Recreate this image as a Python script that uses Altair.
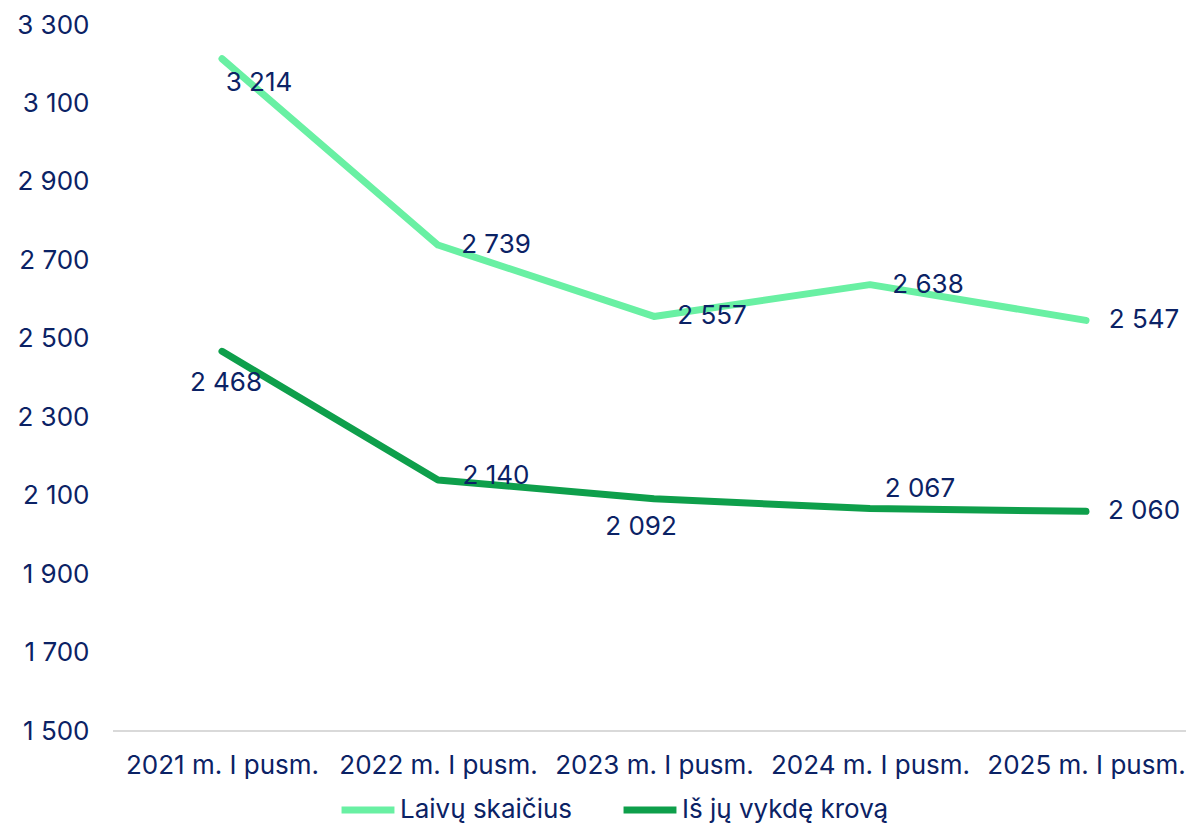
import altair as alt
import pandas as pd

categories = ["2021 m. I pusm.", "2022 m. I pusm.", "2023 m. I pusm.", "2024 m. I pusm.", "2025 m. I pusm."]
series_names = ["Laivų skaičius", "Iš jų vykdę krovą"]
laivai = [3214, 2739, 2557, 2638, 2547]
krova = [2468, 2140, 2092, 2067, 2060]
y_ticks = [1500, 1700, 1900, 2100, 2300, 2500, 2700, 2900, 3100, 3300]

# label offsets (pixels) for each data label: (dx, dy)
off_laivai = [(37, 24), (58, 0), (58, 0), (58, 0), (58, 0)]
off_krova = [(4, 32), (58, -4), (-13, 28), (50, -20), (58, 0)]

rows = []
for c, v in zip(categories, laivai):
    rows.append({"cat": c, "val": v, "series": series_names[0]})
for c, v in zip(categories, krova):
    rows.append({"cat": c, "val": v, "series": series_names[1]})
df = pd.DataFrame(rows)

FONT = "Inter"
FS = 26
NAVY = "#0B2265"
colors = ["#69F0A3", "#0E9F4B"]
W, H = 1069, 706

x_scale = alt.Scale(type="point", range=[109, 973], padding=0)
x_enc = alt.X("cat:N", sort=categories, title=None, scale=x_scale,
              axis=alt.Axis(labelAngle=0, labelFontSize=FS, labelColor=NAVY, labelFont=FONT,
                            labelLimit=400, domain=False, ticks=False, labelPadding=21))
y_enc = alt.Y("val:Q", title=None,
              scale=alt.Scale(domain=[1500, 3300], nice=False, zero=False),
              axis=alt.Axis(values=y_ticks, grid=False, domain=False, ticks=False,
                            labelFontSize=FS, labelColor=NAVY, labelFont=FONT, labelPadding=24,
                            labelExpr="replace(format(datum.value, ','), ',', ' ')"))

baseline = alt.Chart(pd.DataFrame({"v": [1500]})).mark_rule(color="#D9D9D9", strokeWidth=2).encode(
    x=alt.value(0), x2=alt.value(W + 4), y=alt.value(H))

lines = alt.Chart(df).mark_line(strokeWidth=7, strokeCap="round", strokeJoin="round").encode(
    x=x_enc, y=y_enc,
    color=alt.Color("series:N", sort=series_names,
                    scale=alt.Scale(domain=series_names, range=colors),
                    legend=alt.Legend(orient="none", legendX=225, legendY=755, direction="horizontal",
                                      title=None, symbolType="stroke",
                                      symbolStrokeWidth=7, symbolSize=2800, labelFontSize=FS,
                                      labelColor=NAVY, labelFont=FONT, columnPadding=36,
                                      labelOffset=2, labelLimit=400)),
)

layers = [baseline, lines]
for series, vals, offs in [(series_names[0], laivai, off_laivai), (series_names[1], krova, off_krova)]:
    for c, v, (dx, dy) in zip(categories, vals, offs):
        d = pd.DataFrame([{"cat": c, "val": v, "series": series}])
        t = alt.Chart(d).mark_text(dx=dx, dy=dy, fontSize=FS, font=FONT, color=NAVY,
                                   align="center", baseline="middle").encode(
            x=alt.X("cat:N", sort=categories, scale=x_scale),
            y=alt.Y("val:Q"),
            text=alt.Text("lbl:N"),
        ).transform_calculate(lbl="replace(format(datum.val, ','), ',', ' ')")
        layers.append(t)

chart = alt.layer(*layers).properties(
    width=W, height=H,
    autosize=alt.AutoSizeParams(type="none"),
    padding={"left": 105, "top": 17, "right": 4, "bottom": 95},
).configure(font=FONT).configure_view(stroke=None)

chart.save("out.html", embed_options={"renderer": "svg", "actions": False})
